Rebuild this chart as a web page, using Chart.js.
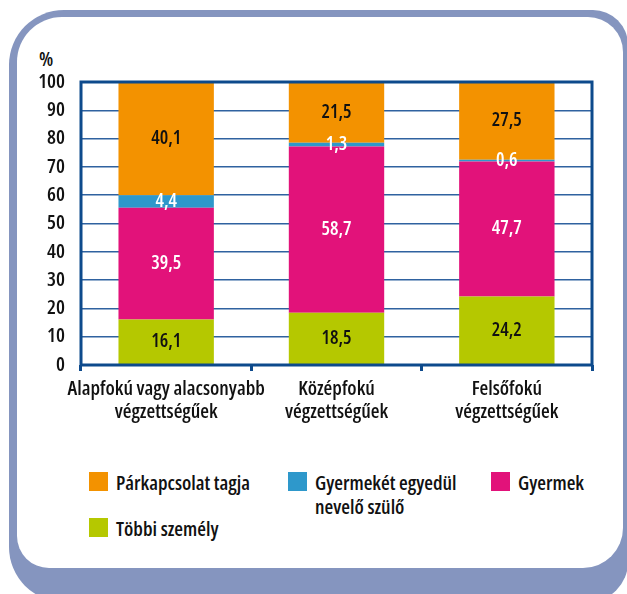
<!DOCTYPE html>
<html>
<head>
<meta charset="utf-8">
<script src="https://cdn.jsdelivr.net/npm/chart.js@4.4.1/dist/chart.umd.min.js"></script>
<style>
  html, body { margin: 0; padding: 0; background: #fff; }
  body { width: 627px; height: 594px; position: relative; overflow: hidden;
         font-family: "Open Sans", sans-serif; font-stretch: condensed; font-weight: 600; color: #111; }
  .outer { position: absolute; left: 9px; top: 10px; width: 619px; height: 592px;
           background: #8595bf; border-radius: 55px 35px 40px 55px; }
  .inner { position: absolute; left: 17px; top: 17px; width: 606px; height: 551px;
           background: #fff; border-radius: 45px 35px 40px 32px; }
  #wrap { position: absolute; left: 0; top: 0; width: 627px; height: 440px; }
  .pct { position: absolute; left: 39px; top: 45px; font-size: 20px; line-height: 28px; }
  #legend { position: absolute; left: 89px; top: 472px; display: grid;
            grid-template-columns: 199px 203px 120px; grid-auto-rows: 46px; font-size: 20px; }
  .item { display: flex; align-items: flex-start; }
  .sw { width: 19px; height: 19px; flex: none; margin-right: 8px; }
  .txt { line-height: 24px; margin-top: -1px; max-width: 155px; }
</style>
</head>
<body>
<div class="outer"></div>
<div class="inner"></div>
<div class="pct">%</div>
<div id="wrap"><canvas id="myChart"></canvas></div>
<div id="legend"></div>
<script>
// categories; stack goes bottom to top: Többi, Gyermek, Egyedül nevelő, Párkapcsolat
var categories = [
  ['Alapfokú vagy alacsonyabb', 'végzettségűek'],
  ['Középfokú', 'végzettségűek'],
  ['Felsőfokú', 'végzettségűek']
];
var tobbi = [16.1, 18.5, 24.2];
var gyermek = [39.5, 58.7, 47.7];
var egyedul = [4.4, 1.3, 0.6];
var parkapcsolat = [40.1, 21.5, 27.5];
var yTicks = [0, 10, 20, 30, 40, 50, 60, 70, 80, 90, 100];

var seriesNames = ['Többi személy', 'Gyermek', 'Gyermekét egyedül nevelő szülő', 'Párkapcsolat tagja'];
var seriesData = [tobbi, gyermek, egyedul, parkapcsolat];
var colors = ['#b5c800', '#e2127a', '#2e98cb', '#f39200'];
var labelColors = ['#111', '#fff', '#fff', '#111'];
var legendOrder = [3, 2, 1, 0];

var FAMILY = '"Open Sans", sans-serif';
var AXIS = '#0d4a8c';
// chart.js checks font.style, so the stretch keyword rides along with the weight
var tickFont = { family: FAMILY, size: 20, weight: '600 condensed', lineHeight: 1.15 };

var datasets = seriesData.map(function (d, i) {
  return {
    label: seriesNames[i],
    data: d,
    backgroundColor: colors[i],
    borderWidth: 0,
    barPercentage: 0.56,
    categoryPercentage: 1
  };
});

// value labels inside the segments
var valueLabels = {
  id: 'valueLabels',
  afterDatasetsDraw: function (chart) {
    var ctx = chart.ctx;
    ctx.save();
    ctx.font = 'condensed 600 19px ' + FAMILY;
    ctx.textAlign = 'center';
    ctx.textBaseline = 'middle';
    chart.data.datasets.forEach(function (ds, i) {
      var meta = chart.getDatasetMeta(i);
      meta.data.forEach(function (bar, j) {
        var p = bar.getProps(['x', 'y', 'base'], true);
        ctx.fillStyle = labelColors[i];
        ctx.fillText(String(ds.data[j]).replace('.', ','), p.x, (p.y + p.base) / 2);
      });
    });
    ctx.restore();
  }
};

// thick frame round the plot area
var plotFrame = {
  id: 'plotFrame',
  afterDatasetsDraw: function (chart) {
    var a = chart.chartArea, ctx = chart.ctx;
    ctx.save();
    ctx.strokeStyle = AXIS;
    ctx.lineWidth = 3;
    ctx.strokeRect(a.left, a.top, a.right - a.left, a.bottom - a.top);
    ctx.restore();
  }
};

var chart = new Chart(document.getElementById('myChart'), {
  type: 'bar',
  data: { labels: categories, datasets: datasets },
  plugins: [valueLabels, plotFrame],
  options: {
    responsive: true,
    maintainAspectRatio: false,
    animation: false,
    layout: { padding: { left: 0, right: 35, top: 82, bottom: 0 } },
    plugins: { legend: { display: false }, tooltip: { enabled: false } },
    scales: {
      x: {
        stacked: true,
        afterFit: function (s) { s.height = 75; },
        grid: { drawOnChartArea: false, drawTicks: true, tickLength: 6, color: AXIS, lineWidth: 3, offset: true },
        border: { display: false },
        ticks: { color: '#111', font: tickFont, padding: 7, maxRotation: 0, autoSkip: false }
      },
      y: {
        stacked: true,
        min: 0,
        max: 100,
        afterFit: function (s) { s.width = 81; },
        afterBuildTicks: function (s) { s.ticks = yTicks.map(function (v) { return { value: v }; }); },
        grid: { drawTicks: false, color: '#2f62a0', lineWidth: 1.5 },
        border: { display: false },
        ticks: { color: '#111', font: tickFont, padding: 16 }
      }
    }
  }
});

// html legend built from the series
var legend = document.getElementById('legend');
legendOrder.forEach(function (i) {
  var it = document.createElement('div');
  it.className = 'item';
  it.innerHTML = '<span class="sw" style="background:' + colors[i] + '"></span><span class="txt">' + seriesNames[i] + '</span>';
  legend.appendChild(it);
});
</script>
</body>
</html>
